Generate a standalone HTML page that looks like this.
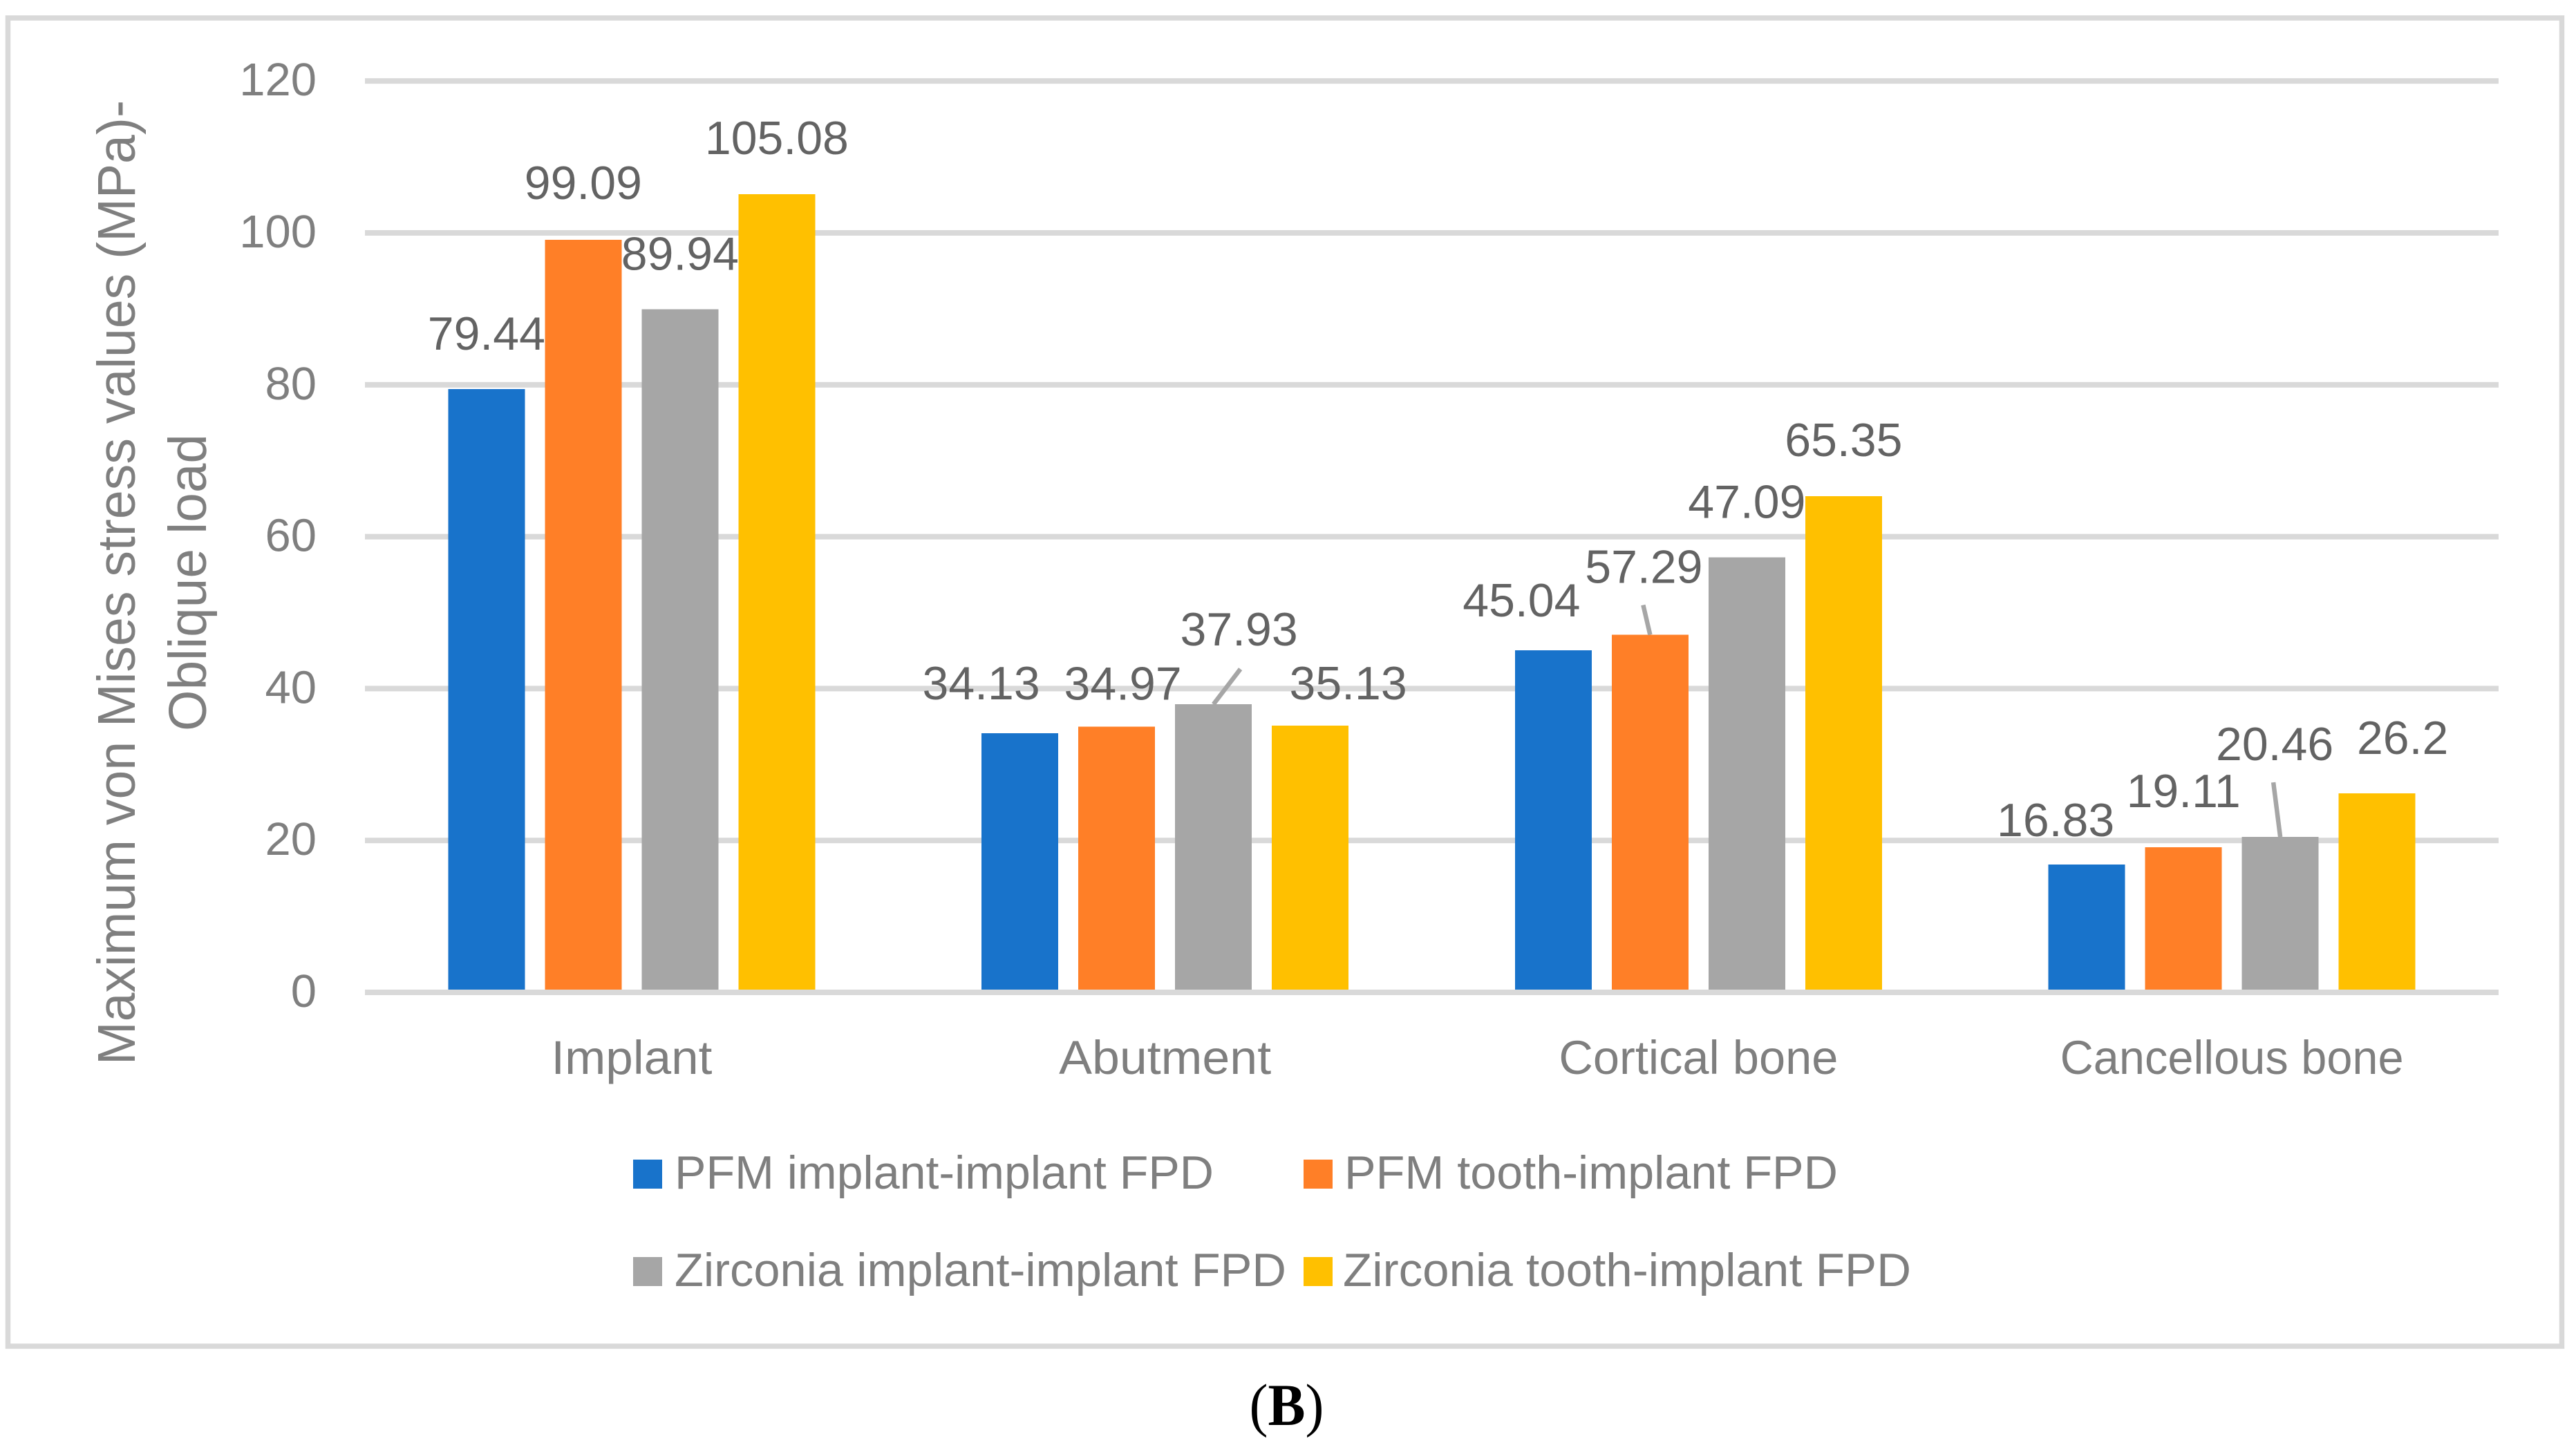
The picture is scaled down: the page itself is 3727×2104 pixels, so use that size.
<!DOCTYPE html>
<html lang="en">
<head>
<meta charset="utf-8">
<title>Maximum von Mises stress values - Oblique load</title>
<style>
html,body{margin:0;padding:0;background:#fff;}
body{width:3727px;height:2104px;overflow:hidden;}
svg{display:block;font-family:"Liberation Sans",sans-serif;}
.tick{font-size:67px;fill:#7f7f7f;text-anchor:end;}
.cat{font-size:69px;fill:#7f7f7f;text-anchor:middle;}
.val{font-size:68px;fill:#636363;text-anchor:middle;}
.leg{font-size:68px;fill:#7f7f7f;}
.axt{font-size:77px;fill:#7f7f7f;text-anchor:middle;}
</style>
</head>
<body>
<svg id="chart" xmlns="http://www.w3.org/2000/svg" width="3727" height="2104" viewBox="0 0 3727 2104">
  <rect x="0" y="0" width="3727" height="2104" fill="#ffffff"/>
  <rect x="11.5" y="26" width="3695" height="1922" fill="none" stroke="#d9d9d9" stroke-width="7.5"/>
  <g id="grid"></g>
  <g id="bars"></g>
  <g id="baseline"></g>
  <g id="leaders"></g>
  <g id="ticks"></g>
  <g id="cats"></g>
  <g id="vals"></g>
  <g>
    <text class="axt" transform="translate(195,843) rotate(-90)" textLength="1396" lengthAdjust="spacingAndGlyphs">Maximum von Mises stress values (MPa)-</text>
    <text class="axt" transform="translate(298,843) rotate(-90)" textLength="430" lengthAdjust="spacingAndGlyphs">Oblique load</text>
  </g>
  <g>
    <g>
      <rect x="916" y="1678" width="42" height="42" fill="#1873cb"/>
      <text class="leg" x="976" y="1720" textLength="780" lengthAdjust="spacingAndGlyphs">PFM implant-implant FPD</text>
    </g>
    <g>
      <rect x="1886" y="1678" width="42" height="42" fill="#ff7f27"/>
      <text class="leg" x="1945" y="1720" textLength="714" lengthAdjust="spacingAndGlyphs">PFM tooth-implant FPD</text>
    </g>
    <g>
      <rect x="916" y="1819" width="42" height="42" fill="#a6a6a6"/>
      <text class="leg" x="976" y="1861" textLength="885" lengthAdjust="spacingAndGlyphs">Zirconia implant-implant FPD</text>
    </g>
    <g>
      <rect x="1886" y="1819" width="42" height="42" fill="#ffc000"/>
      <text class="leg" x="1943" y="1861" textLength="822" lengthAdjust="spacingAndGlyphs">Zirconia tooth-implant FPD</text>
    </g>
  </g>
  <text x="1861.5" y="2062" text-anchor="middle" textLength="108" lengthAdjust="spacingAndGlyphs" style="font-family:'Liberation Serif',serif;font-size:86px;fill:#000">(<tspan font-weight="700">B</tspan>)</text>
</svg>
<script>
const categories = ['Implant', 'Abutment', 'Cortical bone', 'Cancellous bone'];
const yTickValues = [0, 20, 40, 60, 80, 100, 120];
const pfmImplantValues = [79.44, 34.13, 45.04, 16.83];
const pfmToothValues = [99.09, 34.97, 47.09, 19.11];
const zirconiaImplantValues = [89.94, 37.93, 57.29, 20.46];
const zirconiaToothValues = [105.08, 35.13, 65.35, 26.2];
const pfmImplantPrinted = ['79.44', '34.13', '45.04', '16.83'];
const pfmToothPrinted = ['99.09', '34.97', '57.29', '19.11'];
const zirconiaImplantPrinted = ['89.94', '37.93', '47.09', '20.46'];
const zirconiaToothPrinted = ['105.08', '35.13', '65.35', '26.2'];

(function () {
  var NS = 'http://www.w3.org/2000/svg';
  var plotLeft = 528, plotRight = 3615, zeroY = 1436, unitY = 10.99;
  var groupWidth = (plotRight - plotLeft) / categories.length;
  var barWidth = 111, barPitch = 140;
  var allValues = [pfmImplantValues, pfmToothValues, zirconiaImplantValues, zirconiaToothValues];
  var allPrinted = [pfmImplantPrinted, pfmToothPrinted, zirconiaImplantPrinted, zirconiaToothPrinted];
  var colors = ['#1873cb', '#ff7f27', '#a6a6a6', '#ffc000'];
  var seriesKeys = ['pfm-implant', 'pfm-tooth', 'zirconia-implant', 'zirconia-tooth'];

  function yScale(v) { return zeroY - v * unitY; }
  function xGroup(c) { return plotLeft + groupWidth * (c + 0.5); }
  function xBar(c, s) { return xGroup(c) + (s - 1.5) * barPitch; }

  function make(tag, parentId, attrs, text) {
    var e = document.createElementNS(NS, tag);
    Object.keys(attrs).forEach(function (k) { e.setAttribute(k, attrs[k]); });
    if (text !== undefined) e.textContent = text;
    document.getElementById(parentId).appendChild(e);
    return e;
  }

  yTickValues.forEach(function (t) {
    var y = yScale(t);
    if (t !== 0) {
      var g = make('rect', 'grid', { x: plotLeft, y: y - 4, width: plotRight - plotLeft, height: 8, fill: '#d9d9d9' });
      
      
    }
    var lab = make('text', 'ticks', { class: 'tick', x: 458, y: y + 21 }, String(t));
    
    
  });

  var axis = make('rect', 'baseline', { x: plotLeft, y: zeroY - 4, width: plotRight - plotLeft, height: 8, fill: '#d9d9d9' });
  
  

  // Rendered label widths, to match the reference typeface's proportions.
  var catLabelFit = [233, 307, 404, 497];
  categories.forEach(function (name, c) {
    var lab = make('text', 'cats', { class: 'cat', x: xGroup(c), y: 1554, textLength: catLabelFit[c], lengthAdjust: 'spacingAndGlyphs' }, name);
    
    
  });

  // Manual data-label placement relative to each bar's top-centre, by series then category.
  var labelNudge = [
    [[0, -57], [-56, -49], [-46, -49], [-45, -41]],
    [[0, -59], [9, -39], [-9, -75], [0, -58]],
    [[0, -57], [37, -85], [0, -57], [-8, -111]],
    [[0, -58], [55, -38], [0, -58], [37, -57]]
  ];

  allValues.forEach(function (vals, s) {
    vals.forEach(function (v, c) {
      var top = yScale(v);
      var bar = make('rect', 'bars', {
        x: xBar(c, s) - barWidth / 2, y: top,
        width: barWidth, height: zeroY - top,
        fill: colors[s], 'shape-rendering': 'crispEdges'
      });
      
      
      var n = labelNudge[s][c];
      var lab = make('text', 'vals', { class: 'val', x: xBar(c, s) + n[0], y: top + n[1] }, allPrinted[s][c]);
      
      
    });
  });

  // Leader lines: series, category, and end offset from the bar's top-centre.
  var leaderSpecs = [
    [2, 1, 39, -51],
    [1, 2, -10, -43],
    [2, 3, -10, -79]
  ];
  leaderSpecs.forEach(function (l) {
    var x0 = xBar(l[1], l[0]), y0 = yScale(allValues[l[0]][l[1]]);
    var line = make('line', 'leaders', { x1: x0, y1: y0, x2: x0 + l[2], y2: y0 + l[3], stroke: '#a6a6a6', 'stroke-width': 6.5 });
    
    
  });
})();
</script>
</body>
</html>
